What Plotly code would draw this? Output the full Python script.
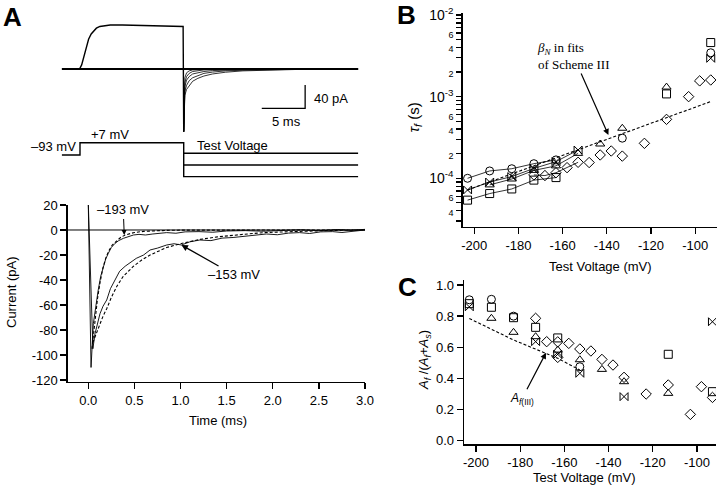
import plotly.graph_objects as go

W, H = 720, 486
SANS = "Liberation Sans, Arial, sans-serif"
SERIF = "Liberation Serif, Times New Roman, serif"

# ---------------- DATA ----------------
# Panel A, top: raw current records (ms, pA)
PRE_T = [0, 1.9, 2.1, 2.3, 2.5, 2.7, 2.9, 3.1, 3.4, 3.7, 4.0, 4.4, 5.0, 5.6, 7.0, 9.0, 11.0, 13.0, 14.0, 14.07]
PRE_I = [0, 0, 1, 7, 17, 29, 41, 51, 60, 66, 70, 73, 74.5, 75.5, 75.5, 75, 74.5, 74, 73, -107.5]
TAIL_T = [14.07, 14.2, 14.4, 14.7, 15.1, 15.7, 16.4, 17.4, 18.9, 20.9, 23.9, 27.9, 34.2]
TAIL_I = [
    [-107.5, -45, -35, -28, -21, -16, -12, -8.5, -5.5, -3.2, -1.6, -0.5, 0],
    [-107.5, -38, -28, -20, -15, -11, -7.5, -5.3, -3.2, -2.1, -1.0, -0.3, 0],
    [-107.5, -30, -19, -13, -8.5, -6, -4.3, -2.7, -1.6, -1.0, -0.5, 0, 0],
    [-107.5, -23, -13, -7.5, -4.3, -2.7, -1.6, -1.0, -0.5, -0.3, 0, 0, 0],
    [-107.5, -15, -6.5, -3.2, -1.6, -1.0, -0.5, 0, 0, 0, 0, 0, 0],
]
BASE_T = [0, 34.2]
BASE_I = [0, 0]
SCALE_MS = 5
SCALE_PA = 40

# Voltage protocol (schematic levels)
PROTO_T = [0, 2.11, 2.11, 14.07, 14.07, 34.2]
PROTO_LEVEL = [0, 0, 1, 1, -1.76, -1.76]
TEST_LEVELS = [0.14, -0.81]
TEST_T = [14.07, 34.2]

# Panel A, bottom: tail currents (ms, pA)
T193 = [0.0, 0.03, 0.055, 0.08, 0.108, 0.135, 0.163, 0.19, 0.217, 0.25, 0.29, 0.33, 0.38, 0.43, 0.49,
        0.55, 0.62, 0.7, 0.78, 0.85, 0.95, 1.05, 1.2, 1.35, 1.5, 1.7, 1.9, 2.1, 2.3, 2.5, 2.7, 2.85, 3.0]
I193 = [22, -110, -75, -60, -48, -37, -29, -23, -18.7, -14, -10.7, -8.5, -6.7, -5.2, -4,
        -3.5, -4, -3.2, -2.6, -2.1, -2.6, -1.5, -1.3, -1.8, -0.8, -0.5, -1.0, -0.3, 0.2, -0.6, 0.4, -0.2, 0.5]
TF193 = [0.04, 0.07, 0.1, 0.13, 0.16, 0.19, 0.22, 0.26, 0.3, 0.35, 0.4, 0.5, 0.6, 0.7, 0.85, 1.0, 1.5, 2.0, 3.0]
IF193 = [-95, -72, -55, -41, -30, -22.5, -17, -12, -9, -6, -4, -2, -1.1, -0.6, -0.3, -0.1, 0, 0, 0]
T153 = [0.0, 0.05, 0.073, 0.1, 0.127, 0.16, 0.2, 0.24, 0.29, 0.34, 0.4, 0.46, 0.52, 0.6, 0.67, 0.75, 0.85,
        0.93, 1.01, 1.1, 1.21, 1.33, 1.45, 1.57, 1.7, 1.82, 1.93, 2.05, 2.17, 2.29, 2.4, 2.52, 2.65, 2.75,
        2.83, 2.92, 3.0]
I153 = [22, -95, -83, -74, -67, -61, -56, -47, -40, -33, -29, -26, -22.7, -20, -16, -14.5, -12,
        -11, -12, -9.5, -8, -8.5, -6.5, -6, -5.2, -4, -3.2, -3.8, -2.5, -2.1, -2.8, -1.5, -1.3, -2,
        -1.3, -0.7, 0]
TF153 = [0.05, 0.09, 0.127, 0.16, 0.2, 0.25, 0.31, 0.38, 0.49, 0.58, 0.67, 0.76, 0.85, 1.0, 1.21, 1.4,
         1.57, 1.75, 1.93, 2.1, 2.29, 2.6, 3.0]
IF153 = [-90, -82, -75, -69, -63, -54, -45, -37, -29, -24, -20, -17, -14, -11, -7.5, -5.5,
         -4, -3, -2, -1.5, -1, -0.4, 0]
ZERO_T = [-0.223, 3.0]
ZERO_I = [0, 0]

# Panel B: tau_f (s) vs test voltage (mV)
B_V_CIRCLE = [-203, -193, -183, -173, -163, -133, -93]
B_TAU_CIRCLE = [1.0e-4, 1.23e-4, 1.31e-4, 1.51e-4, 1.68e-4, 3.1e-4, 3.45e-3]
B_V_SQUARE = [-203, -193, -183, -173, -163, -113, -93]
B_TAU_SQUARE = [5.4e-5, 6.5e-5, 7.4e-5, 9.5e-5, 1.02e-4, 1.08e-3, 4.6e-3]
B_V_TRI = [-193, -183, -173, -163, -153, -143, -133, -113]
B_TAU_TRI = [8.3e-5, 9.8e-5, 1.25e-4, 1.42e-4, 2.02e-4, 2.63e-4, 4.1e-4, 1.31e-3]
B_V_BOW = [-203, -193, -183, -173, -163, -153, -93]
B_TAU_BOW = [7.2e-5, 9.0e-5, 1.05e-4, 1.32e-4, 1.6e-4, 2.22e-4, 2.95e-3]
B_V_DIA = [-173, -168, -163, -158, -153, -148, -143, -138, -133, -123, -113, -103, -98, -93]
B_TAU_DIA = [1.1e-4, 1.08e-4, 1.17e-4, 1.35e-4, 1.57e-4, 1.56e-4, 1.93e-4, 2.16e-4, 1.87e-4,
             2.68e-4, 5.27e-4, 1.0e-3, 1.56e-3, 1.6e-3]
B_N_CONNECTED = {"circle": 5, "square": 5, "tri": 5, "bow": 6, "dia": 5}
BETA_V = [-203, -183, -163, -153, -143, -123, -103, -93]
BETA_TAU = [7.2e-5, 1.13e-4, 1.77e-4, 2.22e-4, 2.79e-4, 4.4e-4, 6.9e-4, 8.7e-4]

# Panel C: Af/(Af+As) vs test voltage (mV)
C_V_CIRCLE = [-203, -193, -183, -153]
C_A_CIRCLE = [0.905, 0.908, 0.80, 0.475]
C_V_SQUARE = [-203, -193, -183, -173, -163, -113, -93]
C_A_SQUARE = [0.88, 0.857, 0.79, 0.728, 0.66, 0.555, 0.315]
C_V_TRI = [-193, -183, -173, -163, -153, -143, -133, -113]
C_A_TRI = [0.786, 0.696, 0.668, 0.582, 0.52, 0.458, 0.379, 0.304]
C_V_BOW = [-203, -173, -163, -153, -133, -93]
C_A_BOW = [0.86, 0.636, 0.555, 0.433, 0.283, 0.764]
C_V_DIA = [-173, -168, -163, -163, -158, -153, -148, -143, -138, -133, -123, -113, -103, -98, -93]
C_A_DIA = [0.786, 0.636, 0.635, 0.535, 0.625, 0.589, 0.576, 0.522, 0.486, 0.407, 0.30, 0.358, 0.169,
           0.347, 0.278]
AF3_V = [-203, -183, -163, -153]
AF3_A = [0.785, 0.647, 0.529, 0.454]

B_XTICKS = [-200, -180, -160, -140, -120, -100]
A_XTICKS = [0.0, 0.5, 1.0, 1.5, 2.0, 2.5, 3.0]
A_YTICKS = [20, 0, -20, -40, -60, -80, -100, -120]
C_YTICKS = [0.0, 0.2, 0.4, 0.6, 0.8, 1.0]

# ---------------- LAYOUT HELPERS ----------------
def dx(p0, p1):
    return [p0 / W, p1 / W]

def dy(top, bottom):
    return [1 - bottom / H, 1 - top / H]

fig = go.Figure()
K = "black"

# A top traces
fig.add_trace(go.Scatter(x=BASE_T, y=BASE_I, mode="lines", line=dict(color=K, width=2),
                         xaxis="x", yaxis="y"))
for ti in TAIL_I:
    fig.add_trace(go.Scatter(x=TAIL_T, y=ti, mode="lines", line=dict(color=K, width=0.8),
                             xaxis="x", yaxis="y"))
fig.add_trace(go.Scatter(x=PRE_T, y=PRE_I, mode="lines", line=dict(color=K, width=1.4),
                         xaxis="x", yaxis="y"))
# scale bar
sb_t1 = 28.07
sb_i0 = -67.4
fig.add_trace(go.Scatter(x=[sb_t1 - SCALE_MS, sb_t1, sb_t1], y=[sb_i0, sb_i0, sb_i0 + SCALE_PA],
                         mode="lines", line=dict(color=K, width=1.3), xaxis="x", yaxis="y"))

# protocol
fig.add_trace(go.Scatter(x=PROTO_T, y=PROTO_LEVEL, mode="lines", line=dict(color=K, width=1.4),
                         xaxis="x2", yaxis="y2"))
for lv in TEST_LEVELS:
    fig.add_trace(go.Scatter(x=TEST_T, y=[lv, lv], mode="lines", line=dict(color=K, width=1.4),
                             xaxis="x2", yaxis="y2"))

# A bottom
fig.add_trace(go.Scatter(x=ZERO_T, y=ZERO_I, mode="lines", line=dict(color=K, width=1),
                         xaxis="x3", yaxis="y3"))
for tt, ii in [(T193, I193), (T153, I153)]:
    fig.add_trace(go.Scatter(x=tt, y=ii, mode="lines", line=dict(color=K, width=0.9),
                             xaxis="x3", yaxis="y3"))
for tt, ii in [(TF193, IF193), (TF153, IF153)]:
    fig.add_trace(go.Scatter(x=tt, y=ii, mode="lines", line=dict(color=K, width=1.1, dash="3px,2px"),
                             xaxis="x3", yaxis="y3"))

# B
bser = [
    (B_V_CIRCLE, B_TAU_CIRCLE, "circle-open", "circle"),
    (B_V_SQUARE, B_TAU_SQUARE, "square-open", "square"),
    (B_V_TRI, B_TAU_TRI, "triangle-up-open", "tri"),
    (B_V_BOW, B_TAU_BOW, "bowtie-open", "bow"),
    (B_V_DIA, B_TAU_DIA, "diamond-open", "dia"),
]
fig.add_trace(go.Scatter(x=BETA_V, y=BETA_TAU, mode="lines",
                         line=dict(color=K, width=1.1, dash="3px,2px"), xaxis="x4", yaxis="y4"))
for v, t, sym, key in bser:
    n = B_N_CONNECTED[key]
    fig.add_trace(go.Scatter(x=v[:n], y=t[:n], mode="lines", line=dict(color=K, width=0.8),
                             xaxis="x4", yaxis="y4"))
for v, t, sym, key in bser:
    fig.add_trace(go.Scatter(x=v, y=t, mode="markers",
                             marker=dict(symbol=sym, size=8, color=K, line=dict(color=K, width=1)),
                             xaxis="x4", yaxis="y4"))

# C
fig.add_trace(go.Scatter(x=AF3_V, y=AF3_A, mode="lines",
                         line=dict(color=K, width=1.1, dash="3px,2px"), xaxis="x5", yaxis="y5"))
cser = [
    (C_V_CIRCLE, C_A_CIRCLE, "circle-open"),
    (C_V_SQUARE, C_A_SQUARE, "square-open"),
    (C_V_TRI, C_A_TRI, "triangle-up-open"),
    (C_V_BOW, C_A_BOW, "bowtie-open"),
    (C_V_DIA, C_A_DIA, "diamond-open"),
]
for v, a, sym in cser:
    fig.add_trace(go.Scatter(x=v, y=a, mode="markers",
                             marker=dict(symbol=sym, size=8, color=K, line=dict(color=K, width=1)),
                             xaxis="x5", yaxis="y5"))

# ---------------- AXES ----------------
tickfont = dict(family=SANS, size=13, color=K)
base_ax = dict(showline=True, linecolor=K, linewidth=1.4, ticks="outside", ticklen=6, tickwidth=1.3,
               tickcolor=K, showgrid=False, zeroline=False, tickfont=tickfont, automargin=False,
               mirror=False)

hidden = dict(visible=False, showgrid=False, zeroline=False, fixedrange=True)

# log ticks for B: labelled ones as major ticks, the rest as minor ticks
b_tickvals, b_ticktext, b_minor = [], [], []
for dec in [-5, -4, -3]:
    for m in range(1, 10):
        val = m * 10.0 ** dec
        if val < 2.6e-5:
            continue
        if m == 1:
            b_tickvals.append(val)
            b_ticktext.append("10<sup>%d</sup>" % dec)
        elif m in (2, 4, 6):
            b_tickvals.append(val)
            b_ticktext.append("<span style='font-size:9px'>%d</span>" % m)
        else:
            b_minor.append(val)
b_tickvals.append(1e-2)
b_ticktext.append("10<sup>-2</sup>")

fig.update_layout(
    width=W, height=H, margin=dict(l=0, r=0, t=0, b=0),
    paper_bgcolor="white", plot_bgcolor="rgba(0,0,0,0)", showlegend=False,
    xaxis=dict(domain=dx(61.7, 358.3), range=[0, 34.2], anchor="y", **hidden),
    yaxis=dict(domain=dy(10, 135), range=[-113.2, 101.2], anchor="x", **hidden),
    xaxis2=dict(domain=dx(61.7, 358.3), range=[0, 34.2], anchor="y2", **hidden),
    yaxis2=dict(domain=dy(128, 185), range=[-2.439, 2.195], anchor="x2", **hidden),
    xaxis3=dict(domain=dx(67.7, 365), range=[-0.223, 3.0], anchor="y3",
                tickvals=A_XTICKS, ticktext=["%.1f" % v for v in A_XTICKS], **base_ax),
    yaxis3=dict(domain=dy(205, 381.7), range=[-121.4, 20], anchor="x3",
                tickvals=A_YTICKS, ticktext=["%d" % v for v in A_YTICKS], **base_ax),
    xaxis4=dict(domain=dx(462.7, 716.7), range=[-205.2, -90.3], anchor="y4",
                tickvals=B_XTICKS, ticktext=["%d" % v for v in B_XTICKS], **base_ax),
    yaxis4=dict(domain=dy(13.3, 226.7), type="log", range=[-4.593, -1.979], anchor="x4",
                tickvals=b_tickvals, ticktext=b_ticktext,
                minor=dict(tickvals=b_minor, ticks="outside", ticklen=5, tickwidth=1.2, tickcolor=K,
                           showgrid=False),
                **{**base_ax, "tickfont": dict(family=SANS, size=14, color=K), "ticklen": 5}),
    xaxis5=dict(domain=dx(464, 716), range=[-205.4, -91.4], anchor="y5",
                tickvals=B_XTICKS, ticktext=["%d" % v for v in B_XTICKS], **base_ax),
    yaxis5=dict(domain=dy(280, 444.3), range=[-0.023, 1.032], anchor="x5",
                tickvals=C_YTICKS, ticktext=["%.1f" % v for v in C_YTICKS], **base_ax),
)

# ---------------- TEXT ----------------
ann = []

def ptext(text, x, y, size=13, family=SANS, angle=0, xanchor="center", yanchor="middle", bold=False,
          align="center"):
    if bold:
        text = "<b>%s</b>" % text
    ann.append(dict(text=text, xref="paper", yref="paper", x=x / W, y=1 - y / H, showarrow=False,
                    xanchor=xanchor, yanchor=yanchor, textangle=angle, align=align,
                    font=dict(family=family, size=size, color=K)))

def dtext(text, xr, yr, x, y, size=13, family=SANS, xanchor="center", yanchor="middle"):
    ann.append(dict(text=text, xref=xr, yref=yr, x=x, y=y, showarrow=False, xanchor=xanchor,
                    yanchor=yanchor, font=dict(family=family, size=size, color=K)))

def arrowtext(text, xr, yr, x, y, ax, ay, size=13, family=SANS, width=1.2, align="center"):
    ann.append(dict(text=text, xref=xr, yref=yr, x=x, y=y, ax=ax, ay=ay, showarrow=True,
                    arrowhead=2, arrowsize=1, arrowwidth=width, arrowcolor=K, align=align,
                    font=dict(family=family, size=size, color=K)))

# panel letters
ptext("A", 12, 17, size=26, bold=True)
ptext("B", 406, 15, size=26, bold=True)
ptext("C", 407, 287, size=26, bold=True)

# A top labels
dtext("40 pA", "x", "y", sb_t1 + 0.8, sb_i0 + 17, size=13, xanchor="left")
dtext("5 ms", "x", "y", sb_t1 - SCALE_MS / 2 + 0.3, sb_i0 - 23, size=13)
dtext("–93 mV", "x2", "y2", 1.88, 0.73, size=13, xanchor="right")
dtext("+7 mV", "x2", "y2", 5.57, 1.63, size=13)
dtext("Test Voltage", "x2", "y2", 15.37, 0.81, size=13, xanchor="left")

# A bottom labels
ptext("Current (pA)", 11, 292, size=13, angle=-90)
ptext("Time (ms)", 217.5, 420, size=13)
arrowtext("–193 mV", "x3", "y3", 0.39, -4, -1, -25, width=1)
arrowtext("–153 mV", "x3", "y3", 1.01, -12, 53, 30, width=1.3)

# B labels
ptext("<i>τ<sub>f</sub></i> (s)", 414.5, 117, size=15, angle=-90)
ptext("Test Voltage (mV)", 600, 266.5, size=13)
arrowtext("<i>β<sub>N</sub></i> in fits<br>of Scheme III", "x4", "y4", -139.3, -3.47, -35, -79,
          size=13, family=SERIF, width=1.2, align="left")

# C labels
ptext("<i>A<sub>f</sub></i> /(<i>A<sub>f</sub></i>+<i>A<sub>s</sub></i>)", 424, 360, size=13, angle=-90)
ptext("Test Voltage (mV)", 584, 477, size=13)
arrowtext("<i>A</i><sub><i>f</i>(III)</sub>", "x5", "y5", -168.3, 0.565, -24, 46, size=12, width=1.2)

fig.update_layout(annotations=ann)
fig.write_html("out.html", config={"displayModeBar": False, "staticPlot": True},
               post_script="document.body.style.margin='0';document.body.style.overflow='hidden';")
